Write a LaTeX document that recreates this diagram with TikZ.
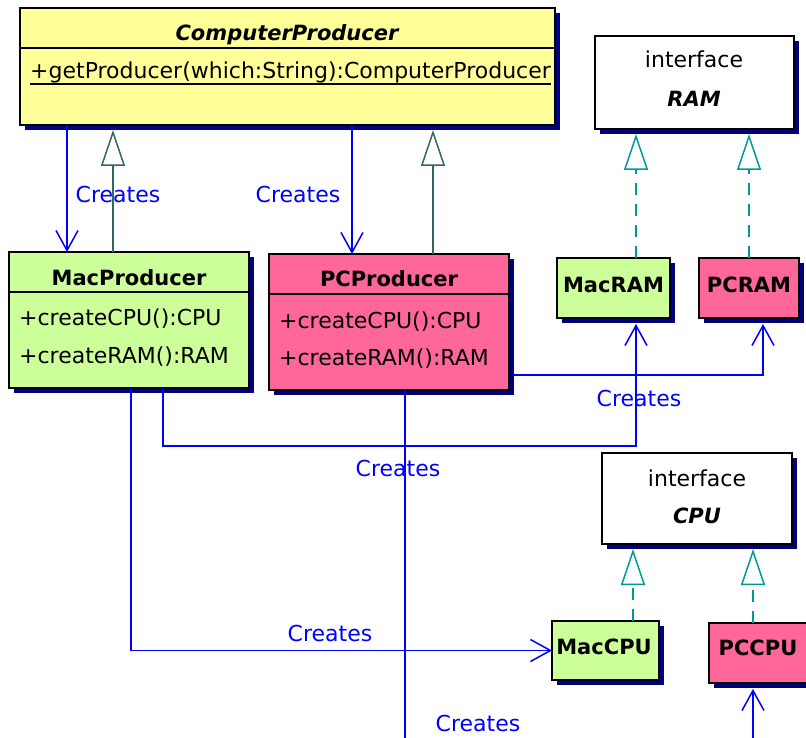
\documentclass[tikz,border=0pt]{standalone}
\usepackage{fontspec}
\setmainfont{DejaVu Sans}
\usetikzlibrary{arrows.meta,shadows}
\definecolor{yelc}{HTML}{FFFF99}
\definecolor{grnc}{HTML}{CCFF99}
\definecolor{pnkc}{HTML}{FF6699}
\definecolor{navyc}{HTML}{000080}
\definecolor{genc}{HTML}{336666}
\definecolor{realc}{HTML}{009999}
\definecolor{bluec}{HTML}{0000FF}
\begin{document}
\begin{tikzpicture}[x=1pt,y=-1pt,
  box/.style={draw=black, line width=1.5pt, inner sep=0pt, outer sep=0pt,
    drop shadow={shadow xshift=5pt, shadow yshift=-5pt, fill=navyc, opacity=1}},
  txt/.style={font=\fontsize{22}{26}\selectfont, inner sep=0pt, text height=16pt, text depth=0pt},
  ttl/.style={txt, font=\fontsize{21}{25}\selectfont\bfseries},
  ittl/.style={txt, font=\fontsize{21}{25}\selectfont\bfseries\itshape},
  lab/.style={txt, text=bluec},
  divider/.style={draw=black, line width=1.5pt},
  uline/.style={draw=black, line width=1.3pt},
  creates/.style={draw=bluec, line width=1.5pt, -{Straight Barb[length=20pt,width=22pt,line width=1.5pt]}},
  gen/.style={draw=genc, line width=1.5pt, -{Triangle[open,length=36pt,width=24pt,line width=1.5pt]}},
  real/.style={draw=realc, line width=1.5pt, dash pattern=on 12pt off 9pt, -{Triangle[open,length=36pt,width=24pt,line width=1.5pt]}}
]
\path[use as bounding box] (0,0) rectangle (806,738);
\clip (0,0) rectangle (806,738);

% boxes
\node[box, fill=yelc, minimum width=535pt, minimum height=117pt] (cp) at (287.5,66.5) {};
\node[box, fill=grnc, minimum width=240pt, minimum height=136pt] (mac) at (129,320) {};
\node[box, fill=pnkc, minimum width=240pt, minimum height=136pt] (pc) at (389,322) {};
\node[box, fill=white, minimum width=199pt, minimum height=93pt] (ram) at (694.5,82.5) {};
\node[box, fill=grnc, minimum width=113pt, minimum height=60pt] (macram) at (613.5,288) {};
\node[box, fill=pnkc, minimum width=100pt, minimum height=60pt] (pcram) at (749,288) {};
\node[box, fill=white, minimum width=190pt, minimum height=91pt] (cpu) at (697,498.5) {};
\node[box, fill=grnc, minimum width=107pt, minimum height=59pt] (maccpu) at (605.5,650.5) {};
\node[box, fill=pnkc, minimum width=110pt, minimum height=60pt] (pccpu) at (764,653) {};

% dividers
\draw[divider] ([yshift=-40pt]cp.north west) -- ([yshift=-40pt]cp.north east);
\draw[divider] ([yshift=-40pt]mac.north west) -- ([yshift=-40pt]mac.north east);
\draw[divider] ([yshift=-40pt]pc.north west) -- ([yshift=-40pt]pc.north east);

% texts
\node[ittl] (cpt) at (287,33) {ComputerProducer};
\node[txt, anchor=west] (cpm) at (30,71) {+getProducer(which:String):ComputerProducer};
\draw[uline] ([yshift=-5pt]cpm.base west) -- ([yshift=-5pt]cpm.base east);
\node[ttl] (mact) at (129,277) {MacProducer};
\node[txt, anchor=west] (macm1) at (19,317) {+createCPU():CPU};
\node[txt, anchor=west] (macm2) at (19,355) {+createRAM():RAM};
\node[ttl] (pct) at (389,279) {PCProducer};
\node[txt, anchor=west] (pcm1) at (279,320) {+createCPU():CPU};
\node[txt, anchor=west] (pcm2) at (279,357) {+createRAM():RAM};
\node[txt] (rami) at (694,60) {interface};
\node[ittl] (ramt) at (694,99) {RAM};
\node[ttl] (macramt) at (613.5,284) {MacRAM};
\node[ttl] (pcramt) at (749,284) {PCRAM};
\node[txt] (cpui) at (697,478) {interface};
\node[ittl] (cput) at (697,515) {CPU};
\node[ttl] (maccput) at (604,646) {MacCPU};
\node[ttl] (pccput) at (758,647) {PCCPU};

% generalizations / realizations
\draw[gen] ([xshift=104pt]mac.north west) -- ([xshift=93pt,yshift=-5pt]cp.south west);
\draw[gen] ([xshift=164pt]pc.north west) -- ([xshift=413pt,yshift=-5pt]cp.south west);
\draw[real] ([xshift=79pt]macram.north west) -- ([xshift=41pt,yshift=-5pt]ram.south west);
\draw[real] ([xshift=50pt]pcram.north west) -- ([xshift=154pt,yshift=-5pt]ram.south west);
\draw[real] ([xshift=81pt]maccpu.north west) -- ([xshift=31pt,yshift=-5pt]cpu.south west);
\draw[real] ([xshift=44pt]pccpu.north west) -- ([xshift=151pt,yshift=-5pt]cpu.south west);

% creates
\draw[creates] ([xshift=47pt]cp.south west) -- ([xshift=58pt]mac.north west);
\draw[creates] ([xshift=332pt]cp.south west) -- ([xshift=83pt]pc.north west);
\draw[creates] ([xshift=154pt]mac.south west) -- ++(0,58) -| ([xshift=79pt,yshift=-6pt]macram.south west);
\draw[creates] ([xshift=5pt,yshift=15pt]pc.south east) -| ([xshift=64pt,yshift=-6pt]pcram.south west);
\draw[creates] ([xshift=122pt]mac.south west) |- (maccpu.west);
\draw[creates] ([xshift=136pt]pc.south west) -- ++(0,400) -| ([xshift=44pt,yshift=-6pt]pccpu.south west);

% labels
\node[lab] (l1) at (118,195) {Creates};
\node[lab] (l2) at (298,195) {Creates};
\node[lab] (l3) at (639,398) {Creates};
\node[lab] (l4) at (398,468) {Creates};
\node[lab] (l5) at (330,633) {Creates};
\node[lab] (l6) at (478,723) {Creates};
\end{tikzpicture}
\end{document}
